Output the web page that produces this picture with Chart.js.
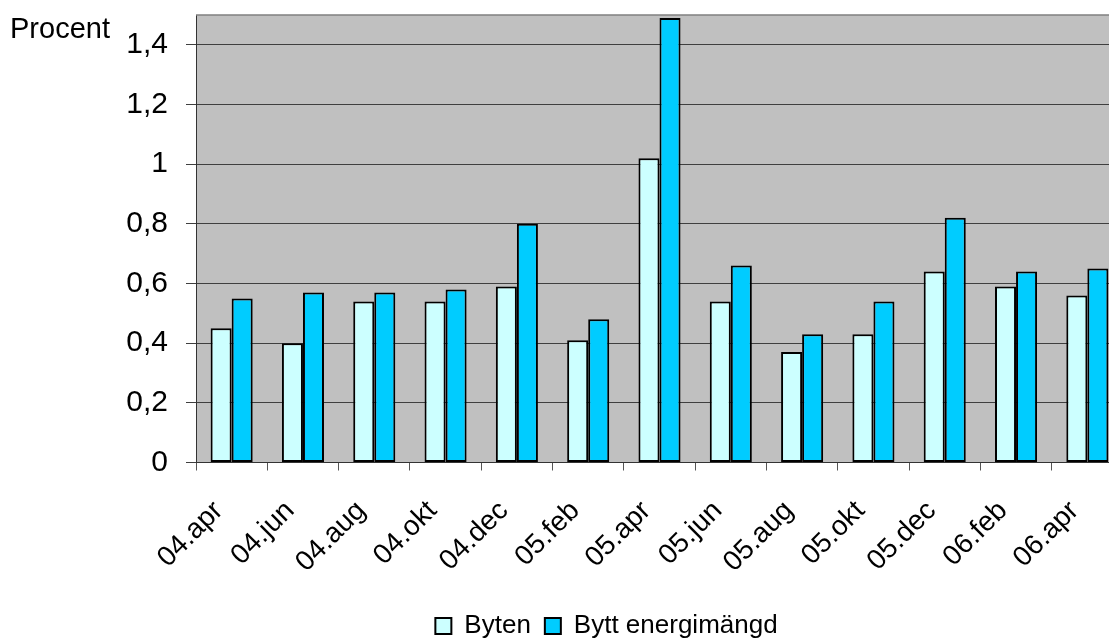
<!DOCTYPE html>
<html>
<head>
<meta charset="utf-8">
<script src="https://cdn.jsdelivr.net/npm/chart.js@4/dist/chart.umd.min.js"></script>
<style>
  html, body { margin: 0; padding: 0; background: #ffffff; overflow: hidden; }
  #wrap { position: relative; width: 1109px; height: 639px; overflow: hidden; }
  canvas { display: block; }
</style>
</head>
<body>
<div id="wrap"><canvas id="c" width="1213" height="649"></canvas></div>
<script>
// Månadsvisa byten av elleverantör, procent
const months = ['04.apr', '04.jun', '04.aug', '04.okt', '04.dec', '05.feb', '05.apr',
                '05.jun', '05.aug', '05.okt', '05.dec', '06.feb', '06.apr'];
const byten = [0.45, 0.40, 0.54, 0.54, 0.59, 0.41, 1.02, 0.54, 0.37, 0.43, 0.64, 0.59, 0.56];
const byttEnergimangd = [0.55, 0.57, 0.57, 0.58, 0.80, 0.48, 1.49, 0.66, 0.43, 0.54, 0.82, 0.64, 0.65];
const yTicks = [0, 0.2, 0.4, 0.6, 0.8, 1, 1.2, 1.4];

const FONT = "'Liberation Sans', Arial, sans-serif";
Chart.defaults.font.family = FONT;
Chart.defaults.color = '#000000';

// Grey plot background, frame and the axis caption
const plotFrame = {
  id: 'plotFrame',
  beforeDraw(chart) {
    const { ctx, chartArea: a } = chart;
    ctx.save();
    ctx.fillStyle = '#C0C0C0';
    ctx.fillRect(a.left, a.top, a.right - a.left, a.bottom - a.top);
    ctx.restore();
  },
  beforeDatasetsDraw(chart) {
    const { ctx, chartArea: a } = chart;
    ctx.save();
    ctx.strokeStyle = '#808080';
    ctx.lineWidth = 1.5;
    ctx.beginPath();
    ctx.moveTo(a.left, a.top);
    ctx.lineTo(a.right, a.top);
    ctx.lineTo(a.right, a.bottom);
    ctx.stroke();
    ctx.restore();
  },
  afterDraw(chart) {
    const { ctx } = chart;
    ctx.save();
    ctx.font = `29px ${FONT}`;
    ctx.fillStyle = '#000000';
    ctx.textAlign = 'left';
    ctx.textBaseline = 'alphabetic';
    ctx.fillText('Procent', 10, 38);
    ctx.restore();
  }
};

// Drop the extra room Chart.js reserves for half-labels at the axis ends
function noEdgePadding(s) {
  s.paddingTop = 0;
  s.paddingBottom = 0;
  s.paddingLeft = 0;
  s.paddingRight = 0;
}

new Chart(document.getElementById('c'), {
  type: 'bar',
  data: {
    labels: months,
    datasets: [
      {
        label: 'Byten',
        data: byten,
        backgroundColor: '#CCFFFF',
        borderColor: '#000000',
        borderWidth: 2,
        borderSkipped: false
      },
      {
        label: 'Bytt energimängd',
        data: byttEnergimangd,
        backgroundColor: '#00CCFF',
        borderColor: '#000000',
        borderWidth: 2,
        borderSkipped: false
      }
    ]
  },
  options: {
    responsive: false,
    animation: false,
    devicePixelRatio: 1,
    layout: { padding: { top: 15, left: 0, right: 0, bottom: 0 } },
    datasets: {
      bar: { categoryPercentage: 0.59, barPercentage: 1.0 }
    },
    scales: {
      x: {
        offset: true,
        grid: {
          offset: true,
          drawOnChartArea: false,
          drawTicks: true,
          tickLength: 8,
          color: '#555555'
        },
        border: { display: true, color: '#333333', width: 1 },
        ticks: {
          font: { size: 28 },
          color: '#000000',
          minRotation: 45,
          maxRotation: 45,
          autoSkip: false,
          padding: 24,
          labelOffset: -13
        },
        afterFit(s) { s.height = 136.5; noEdgePadding(s); }
      },
      y: {
        min: 0,
        max: 1.5,
        grid: {
          color: '#3f3f3f',
          lineWidth: 1,
          drawTicks: true,
          tickLength: 10
        },
        border: { display: true, color: '#333333', width: 1 },
        afterBuildTicks(s) { s.ticks = yTicks.map(v => ({ value: v })); },
        ticks: {
          font: { size: 30 },
          color: '#000000',
          padding: 18,
          callback: v => String(Math.round(v * 10) / 10).replace('.', ',')
        },
        afterFit(s) { s.width = 196; noEdgePadding(s); }
      },
      yR: {
        type: 'linear',
        position: 'right',
        display: true,
        grid: { display: false, drawTicks: false },
        border: { display: false },
        ticks: { display: false },
        afterFit(s) { s.width = 90; noEdgePadding(s); }
      }
    },
    plugins: {
      legend: {
        position: 'bottom',
        labels: {
          font: { size: 26 },
          color: '#000000',
          boxWidth: 16,
          boxHeight: 16,
          padding: 14
        }
      },
      tooltip: { enabled: false }
    }
  },
  plugins: [plotFrame]
});
</script>
</body>
</html>
